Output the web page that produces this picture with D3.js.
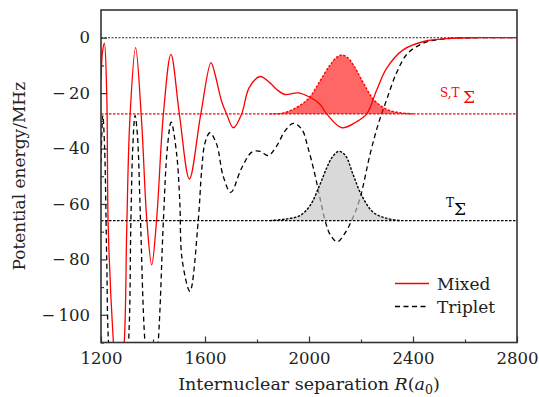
<!DOCTYPE html>
<html>
<head>
<meta charset="utf-8">
<script src="https://cdn.jsdelivr.net/npm/d3@7"></script>
<style>
  body { margin: 0; background: #fff; }
</style>
</head>
<body>
<script>
// values (R in a0, energy in MHz)
const mixedR = [1200, 1206, 1213, 1222, 1228, 1247, 1268, 1290, 1299, 1311, 1333, 1356, 1376, 1395, 1414, 1440, 1469, 1502, 1540, 1583, 1623, 1638, 1664, 1683, 1709, 1741, 1770, 1812, 1850, 1876, 1908, 1959, 2004, 2042, 2068, 2126, 2180, 2222, 2260, 2299, 2362, 2453, 2550, 2650, 2800]
const mixedE = [-15, -5, -2, -20, -69, -109, -135, -109, -69, -29.5, -3.6, -30, -65.5, -82, -65.5, -27.5, -6, -28, -51, -28, -9, -13, -23, -27.5, -32.5, -27.5, -18, -14, -16.3, -18.7, -20.5, -19.9, -21.5, -24, -27.5, -32.5, -30.5, -27.5, -19, -11, -4.4, -1.1, -0.2, 0, 0]

const tripletR = [1200, 1207, 1214, 1222, 1230, 1268, 1305, 1315, 1322, 1331, 1340, 1352, 1369, 1395, 1420, 1440, 1455, 1470, 1491, 1503, 1512, 1542, 1574, 1587, 1600, 1619, 1645, 1670, 1699, 1741, 1780, 1812, 1843, 1876, 1908, 1940, 1972, 1997, 2023, 2042, 2065, 2081, 2108, 2135, 2164, 2196, 2235, 2267, 2299, 2337, 2376, 2414, 2453, 2504, 2568, 2650, 2800]
const tripletE = [-45, -28, -40, -80, -112, -150, -112, -66, -40, -28, -35, -66, -110, -135, -110, -66, -40, -30.5, -42, -59, -80, -91.5, -66, -48, -38, -34.3, -38.5, -50, -55.8, -47, -41.3, -41, -42.5, -39, -33.6, -30.9, -33, -40, -49.5, -57.8, -67, -71, -73.7, -71, -66, -58, -42, -31, -22.3, -12.6, -6, -3.2, -1.5, -0.6, -0.1, 0, 0]

// bound state levels and their wavefunctions
const levelST = -27.5
const levelT = -66
const stR = [1850, 1900, 1950, 2000, 2040, 2080, 2105, 2126, 2150, 2175, 2210, 2250, 2300, 2350, 2400]
const stE = [-27.5, -27.2, -25.3, -21.8, -16, -10, -7.2, -6.2, -7.3, -10.5, -16.5, -22.5, -25.9, -27.1, -27.5]
const tR = [1850, 1914, 1965, 2004, 2042, 2068, 2090, 2115, 2140, 2170, 2203, 2247, 2299, 2350]
const tE = [-66, -65.4, -64.2, -60.6, -53, -47, -43, -41, -42.5, -49.5, -57, -63, -65.2, -66]

const xTicks = [1200, 1600, 2000, 2400, 2800]
const yTicks = [-100, -80, -60, -40, -20, 0]

const width = 539, height = 397
const plot = { left: 101, right: 517, top: 10, bottom: 342.5 }
const serif = '"DejaVu Serif", serif'

const svg = d3.select('body').append('svg')
    .attr('width', width)
    .attr('height', height)
    .attr('font-family', serif)

const x = d3.scaleLinear().domain([1200, 2800]).range([plot.left, plot.right])
const y = d3.scaleLinear().domain([-110, 10]).range([plot.bottom, plot.top])

svg.append('clipPath').attr('id', 'clip')
    .append('rect')
    .attr('x', plot.left).attr('y', plot.top)
    .attr('width', plot.right - plot.left).attr('height', plot.bottom - plot.top)

const g = svg.append('g').attr('clip-path', 'url(#clip)')

const line = d3.line()
    .x(d => x(d[0]))
    .y(d => y(d[1]))
    .curve(d3.curveCatmullRom.alpha(0.5))

// zero line
g.append('line')
    .attr('x1', x(1200)).attr('x2', x(2800))
    .attr('y1', y(0)).attr('y2', y(0))
    .attr('stroke', '#222').attr('stroke-width', 1.1)
    .attr('stroke-dasharray', '2,1.5')

// potentials
g.append('path')
    .datum(d3.zip(tripletR, tripletE))
    .attr('d', line)
    .attr('fill', 'none')
    .attr('stroke', '#000')
    .attr('stroke-width', 1.3)
    .attr('stroke-dasharray', '5,3.5')

g.append('path')
    .datum(d3.zip(mixedR, mixedE))
    .attr('d', line)
    .attr('fill', 'none')
    .attr('stroke', '#ff0000')
    .attr('stroke-width', 1.3)

// wavefunctions on their levels
function drawState(rs, es, level, fillColor, opacity, strokeColor) {
    const pts = d3.zip(rs, es)
    const area = d3.area()
        .x(d => x(d[0]))
        .y0(y(level))
        .y1(d => y(d[1]))
        .curve(d3.curveCatmullRom.alpha(0.5))
    g.append('path')
        .datum(pts)
        .attr('d', area)
        .attr('fill', fillColor)
        .attr('fill-opacity', opacity)
    g.append('line')
        .attr('x1', x(1200)).attr('x2', x(2800))
        .attr('y1', y(level)).attr('y2', y(level))
        .attr('stroke', strokeColor).attr('stroke-width', 1.4)
        .attr('stroke-dasharray', '2.5,1.5')
    g.append('path')
        .datum(pts)
        .attr('d', line)
        .attr('fill', 'none')
        .attr('stroke', strokeColor)
        .attr('stroke-width', 1.4)
        .attr('stroke-dasharray', '2.5,1.5')
}

drawState(stR, stE, levelST, '#ff0000', 0.6, '#ff0000')
drawState(tR, tE, levelT, '#c5c5c5', 0.65, '#000')

// axes
const axisColor = '#333'
const xAxis = svg.append('g')
    .attr('transform', `translate(0,${plot.bottom})`)
    .call(d3.axisBottom(x).tickValues(xTicks).tickSizeInner(-6).tickSizeOuter(0).tickPadding(10).tickFormat(d3.format('d')))
const xMinor = svg.append('g')
    .attr('transform', `translate(0,${plot.bottom})`)
    .call(d3.axisBottom(x).tickValues([1400, 1800, 2200, 2600]).tickSizeInner(-3).tickSizeOuter(0).tickFormat(''))

const yAxis = svg.append('g')
    .attr('transform', `translate(${plot.left},0)`)
    .call(d3.axisLeft(y).tickValues(yTicks).tickSizeInner(-6).tickSizeOuter(0).tickPadding(11)
        .tickFormat(d => d < 0 ? '\u2212\u2009' + Math.abs(d) : d))
const yMinor = svg.append('g')
    .attr('transform', `translate(${plot.left},0)`)
    .call(d3.axisLeft(y).tickValues([-110, -90, -70, -50, -30, -10]).tickSizeInner(-3).tickSizeOuter(0).tickFormat(''))

for (const a of [xAxis, xMinor, yAxis, yMinor]) {
    a.attr('font-family', serif).attr('font-size', 16.5)
    a.select('.domain').remove()
    a.selectAll('line').attr('stroke', axisColor).attr('stroke-width', 1.2)
    a.selectAll('text').attr('fill', '#222')
}

// frame
svg.append('rect')
    .attr('x', plot.left).attr('y', plot.top)
    .attr('width', plot.right - plot.left).attr('height', plot.bottom - plot.top)
    .attr('fill', 'none').attr('stroke', axisColor).attr('stroke-width', 1.6)

// axis titles
svg.append('text')
    .attr('transform', `translate(25,${(plot.top + plot.bottom) / 2}) rotate(-90)`)
    .attr('text-anchor', 'middle')
    .attr('font-size', 17)
    .attr('fill', '#222')
    .text('Potential energy/MHz')

const xt = svg.append('text')
    .attr('x', (plot.left + plot.right) / 2)
    .attr('y', 390)
    .attr('text-anchor', 'middle')
    .attr('font-size', 17.5)
    .attr('fill', '#222')
xt.append('tspan').text('Internuclear separation ')
xt.append('tspan').attr('font-style', 'italic').text('R')
xt.append('tspan').text('(')
xt.append('tspan').attr('font-style', 'italic').text('a')
xt.append('tspan').attr('dy', 4).attr('font-size', 12.5).text('0')
xt.append('tspan').attr('dy', -4).text(')')

// state labels
svg.append('text').attr('x', 440).attr('y', 97).attr('fill', '#ff0000').attr('font-size', 12).text('S,T')
svg.append('text').attr('x', 463).attr('y', 103).attr('fill', '#ff0000').attr('font-size', 17).text('Σ')
svg.append('text').attr('x', 446).attr('y', 207).attr('fill', '#000').attr('font-size', 12).text('T')
svg.append('text').attr('x', 454).attr('y', 215).attr('fill', '#000').attr('font-size', 17).text('Σ')

// legend
const legend = svg.append('g')
const legendItems = [
    { name: 'Mixed', color: '#ff0000', dash: null, y: 283.5 },
    { name: 'Triplet', color: '#000', dash: '5,3.5', y: 306.5 }
]
legendItems.forEach(item => {
    legend.append('line')
        .attr('x1', 395).attr('x2', 429)
        .attr('y1', item.y).attr('y2', item.y)
        .attr('stroke', item.color).attr('stroke-width', 1.3)
        .attr('stroke-dasharray', item.dash)
    legend.append('text')
        .attr('x', 437).attr('y', item.y + 6)
        .attr('font-size', 17)
        .attr('fill', '#222')
        .text(item.name)
})
</script>
</body>
</html>
